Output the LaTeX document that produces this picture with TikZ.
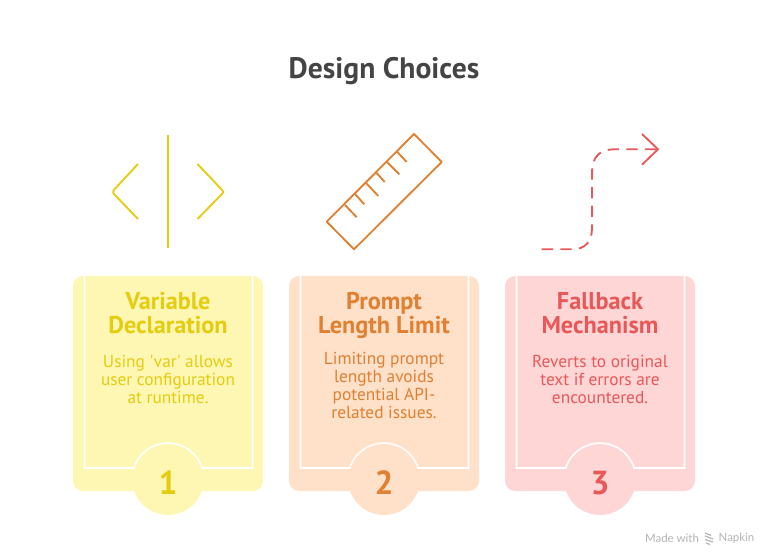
\documentclass[tikz,border=0pt]{standalone}
\usepackage{fontspec}
\usetikzlibrary{positioning,calc}
\newfontfamily\cardfont{PT Sans}
\newfontfamily\markfont{Lato}
\definecolor{softyellow}{HTML}{FEF6B3}
\definecolor{softorange}{HTML}{FFE0C8}
\definecolor{softred}{HTML}{FFD6D6}
\definecolor{darkyellow}{HTML}{E5CC10}
\definecolor{darkorange}{HTML}{E08032}
\definecolor{darkred}{HTML}{E85858}
\definecolor{softgray}{HTML}{B4B4B4}
\definecolor{titlegray}{HTML}{444444}
\tikzset{
  heading/.style={align=center,font=\cardfont\bfseries\fontsize{18.2}{18}\selectfont},
  blurb/.style={align=center,font=\cardfont\fontsize{13}{13.5}\selectfont},
  number/.style={font=\cardfont\bfseries\fontsize{25}{25}\selectfont},
  icon/.style={line width=1.4pt,line join=round},
  inset/.style={white,line width=1.2pt},
}

\begin{document}
\begin{tikzpicture}[x=0.75pt,y=-0.75pt]
\useasboundingbox (0,0) rectangle (768,556);
\node[font=\cardfont\bfseries\fontsize{22.2}{24}\selectfont,text=titlegray] (title) at (384,71) {Design Choices};

% Code icon
\draw[icon,darkyellow,rounded corners=1.5pt] (138,164) -- (112,192) -- (138,219);
\draw[icon,darkyellow] (168,135) -- (168,248);
\draw[icon,darkyellow,rounded corners=1.5pt] (197.5,164) -- (224,192) -- (197.5,219);

% Ruler icon
\draw[icon,darkorange] (414,134) -- (441.7,162) -- (354,249.3) -- (326.7,221.7) -- cycle;
\draw[icon,darkorange] (345,205) -- (356.7,217.3);
\draw[icon,darkorange] (355,194) -- (364.3,204.3);
\draw[icon,darkorange] (365.7,182.7) -- (378.3,196);
\draw[icon,darkorange] (376,172.3) -- (384.7,182);
\draw[icon,darkorange] (386.7,161.7) -- (399.3,174.3);
\draw[icon,darkorange] (397,151.7) -- (406.7,162);

% Dashed arrow icon
\draw[icon,darkred,dash pattern=on 8.5pt off 5.5pt] (541.7,249.3) -- (572,249.3) .. controls (585,249.3) and (592,242) .. (592,228) -- (592,172) .. controls (592,157) and (600,149.3) .. (614,149.3) -- (657,149.3);
\draw[icon,darkred] (642,134) -- (658,149.3) -- (642,164.7);

% Card 1
\begin{scope}
\fill[softyellow,rounded corners=7.5pt] (73,276) rectangle (263,491);
\fill[softyellow] (168,479) circle (36);
\draw[inset] (84.5,276) -- (84.5,468) -- (133.7,468) arc[start angle=198,end angle=342,radius=36] -- (252.5,468) -- (252.5,276);
\node[heading,text=darkyellow] (head1) at (168,313) {Variable\\Declaration};
\node[blurb,text=darkyellow] (text1) at (168,379) {Using 'var' allows\\user configuration\\at runtime.};
\node[number,text=darkyellow] (num1) at (168,483) {1};
\end{scope}

% Card 2
\begin{scope}[xshift=162pt]
\fill[softorange,rounded corners=7.5pt] (73,276) rectangle (263,491);
\fill[softorange] (168,479) circle (36);
\draw[inset] (84.5,276) -- (84.5,468) -- (133.7,468) arc[start angle=198,end angle=342,radius=36] -- (252.5,468) -- (252.5,276);
\node[heading,text=darkorange] (head2) at (168,315) {Prompt\\Length Limit};
\node[blurb,text=darkorange] (text2) at (168,385) {Limiting prompt\\length avoids\\potential API-\\related issues.};
\node[number,text=darkorange] (num2) at (168,483) {2};
\end{scope}

% Card 3
\begin{scope}[xshift=324pt]
\fill[softred,rounded corners=7.5pt] (73,276) rectangle (263,491);
\fill[softred] (168,479) circle (36);
\draw[inset] (84.5,276) -- (84.5,468) -- (133.7,468) arc[start angle=198,end angle=342,radius=36] -- (252.5,468) -- (252.5,276);
\node[heading,text=darkred] (head3) at (168,313) {Fallback\\Mechanism};
\node[blurb,text=darkred] (text3) at (168,379) {Reverts to original\\text if errors are\\encountered.};
\node[number,text=darkred] (num3) at (168,483) {3};
\end{scope}

% Footer mark
\node[font=\markfont\fontsize{8.6}{10}\selectfont,text=softgray] (made) at (672,538) {Made with};
\node[font=\markfont\fontsize{8.6}{10}\selectfont,text=softgray] (napkin) at (736.5,538) {Napkin};
\draw[softgray,line width=0.9pt] (705,533) -- (711,535.5) (705,536) -- (713,539) (705,539.5) -- (713,542) (706,543) -- (710,544.5);
\end{tikzpicture}
\end{document}
